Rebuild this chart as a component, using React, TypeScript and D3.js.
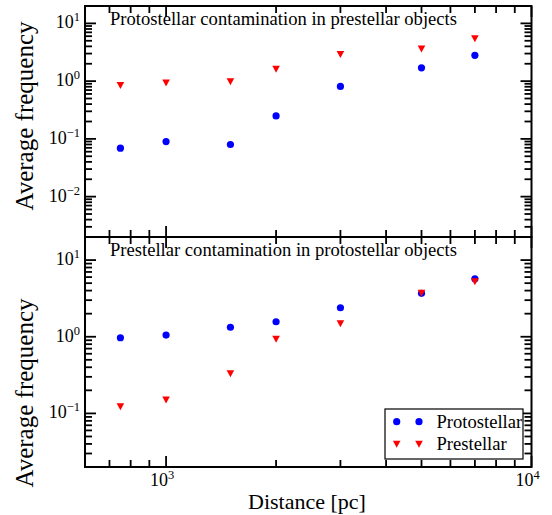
import React from "react";
import * as d3 from "d3";

const distances = [750, 1000, 1500, 2000, 3000, 5000, 7000];
const topProto = [0.069, 0.09, 0.08, 0.25, 0.81, 1.7, 2.8];
const topPre = [0.84, 0.93, 0.98, 1.6, 2.9, 3.6, 5.4];
const botProto = [0.97, 1.05, 1.33, 1.57, 2.39, 3.68, 5.7];
const botPre = [0.122, 0.15, 0.33, 0.93, 1.48, 3.7, 5.2];
const topYExps = [1, 0, -1, -2];
const botYExps = [1, 0, -1];
const xExps = [3, 4];
const topTitle = "Protostellar contamination in prestellar objects";
const botTitle = "Prestellar contamination in protostellar objects";
const yLabel = "Average frequency";
const xLabel = "Distance [pc]";
const legendLabels = ["Protostellar", "Prestellar"];

const W = 552, H = 515;
const L = 85, R = 531.5;
const FONT = "'Liberation Serif', serif";
const BLUE = "#0000ff", RED = "#ff0000";

const x = d3.scaleLog().domain([600, 10000]).range([L, R]);

function minorTicks(lo: number, hi: number) {
  const out: number[] = [];
  for (let e = -4; e <= 5; e++) {
    for (let m = 1; m <= 9; m++) {
      const v = m * Math.pow(10, e);
      if (v >= lo * 0.9999 && v <= hi * 1.0001) out.push(v);
    }
  }
  return out;
}

const tStyle = (size: number) => ({ fontFamily: FONT, fontSize: size + "px" });

function Pow({ x0, y0, exp, anchor }: { x0: number; y0: number; exp: number; anchor: string }) {
  const s = exp < 0 ? "\u2212" + Math.abs(exp) : String(exp);
  return (
    <text x={x0} y={y0} textAnchor={anchor} style={tStyle(18)} fill="#000">
      10<tspan style={{ fontSize: "12.5px" }} dy={-7}>{s}</tspan>
    </text>
  );
}

function Tri({ cx, cy }: { cx: number; cy: number }) {
  const w = 3.8, h = 3.5;
  return <path d={`M${cx - w},${cy - h}L${cx + w},${cy - h}L${cx},${cy + h}Z`} fill={RED} />;
}

function Panel({ top, bottom, domain, exps, proto, pre, title, showXLabels, legend }: any) {
  const y = d3.scaleLog().domain(domain).range([bottom, top]);
  const yMinor = minorTicks(domain[0], domain[1]);
  const xMinor = minorTicks(600, 10000);
  const maj = 11, mn = 7;
  return (
    <g>
      {yMinor.map((v, i) => {
        const isMaj = Math.abs(Math.log10(v) - Math.round(Math.log10(v))) < 1e-9;
        const len = isMaj ? maj : mn;
        const yy = y(v);
        return (
          <g key={"y" + i}>
            <line x1={L} x2={L + len} y1={yy} y2={yy} stroke="#000" strokeWidth={1.8} />
            <line x1={R} x2={R - len} y1={yy} y2={yy} stroke="#000" strokeWidth={1.8} />
          </g>
        );
      })}
      {xMinor.map((v, i) => {
        const isMaj = Math.abs(Math.log10(v) - Math.round(Math.log10(v))) < 1e-9;
        const len = isMaj ? maj : mn;
        const xx = x(v);
        return (
          <g key={"x" + i}>
            <line x1={xx} x2={xx} y1={bottom} y2={bottom - len} stroke="#000" strokeWidth={1.8} />
            <line x1={xx} x2={xx} y1={top} y2={top + len} stroke="#000" strokeWidth={1.8} />
          </g>
        );
      })}
      <rect x={L} y={top} width={R - L} height={bottom - top} fill="none" stroke="#000" strokeWidth={2} />
      {exps.map((e: number) => (
        <Pow key={e} x0={L - 5} y0={y(Math.pow(10, e)) + 5} exp={e} anchor="end" />
      ))}
      {showXLabels &&
        xExps.map((e) => <Pow key={"xl" + e} x0={x(Math.pow(10, e)) - 4} y0={bottom + 19} exp={e} anchor="middle" />)}
      <text x={110} y={top + 19} style={tStyle(18.6)} fill="#000">{title}</text>
      {distances.map((d, i) => (
        <circle key={"c" + i} cx={x(d)} cy={y(proto[i])} r={3.6} fill={BLUE} />
      ))}
      {distances.map((d, i) => (
        <Tri key={"t" + i} cx={x(d)} cy={y(pre[i])} />
      ))}
      {legend && (
        <g>
          <rect x={385} y={409} width={138} height={50} fill="#fff" stroke="#000" strokeWidth={1.2} />
          <circle cx={396.7} cy={421.7} r={3.6} fill={BLUE} />
          <circle cx={419} cy={421.7} r={3.6} fill={BLUE} />
          <Tri cx={396.7} cy={444.3} />
          <Tri cx={419} cy={444.3} />
          <text x={436.5} y={427.5} style={tStyle(18.6)} fill="#000">{legendLabels[0]}</text>
          <text x={436.5} y={450} style={tStyle(18.6)} fill="#000">{legendLabels[1]}</text>
        </g>
      )}
    </g>
  );
}

export default function App() {
  return (
    <svg width={W} height={H} style={{ position: "absolute", left: 0, top: 0, background: "#fff" }}>
      <rect width={W} height={H} fill="#fff" />
      <Panel top={6} bottom={237} domain={[0.002, 20]} exps={topYExps} proto={topProto} pre={topPre} title={topTitle} showXLabels={false} legend={false} />
      <Panel top={237} bottom={467} domain={[0.02, 20]} exps={botYExps} proto={botProto} pre={botPre} title={botTitle} showXLabels={true} legend={true} />
      <text transform="translate(33,116) rotate(-90)" textAnchor="middle" style={tStyle(25)} fill="#000">{yLabel}</text>
      <text transform="translate(33,393) rotate(-90)" textAnchor="middle" style={tStyle(25)} fill="#000">{yLabel}</text>
      <text x={307} y={509} textAnchor="middle" style={tStyle(22)} fill="#000">{xLabel}</text>
    </svg>
  );
}
